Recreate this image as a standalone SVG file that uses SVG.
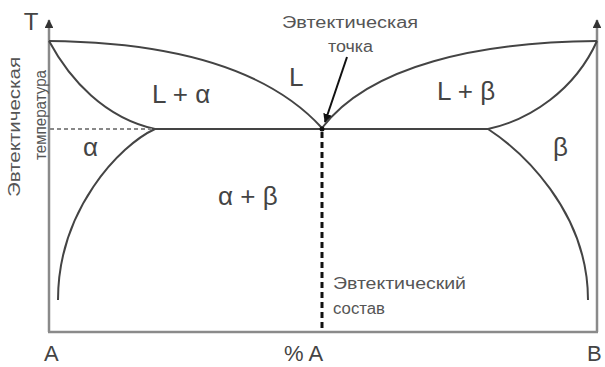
<svg xmlns="http://www.w3.org/2000/svg" width="605" height="367" viewBox="0 0 605 367">
<defs>
<marker id="ah" viewBox="0 0 10 10" refX="9" refY="5" markerWidth="4.5" markerHeight="5" orient="auto" markerUnits="strokeWidth"><path d="M0,0 L10,5 L0,10 z" fill="#111"/></marker>
<marker id="axh" viewBox="0 0 10 10" refX="9" refY="5" markerWidth="3.5" markerHeight="3.5" orient="auto" markerUnits="strokeWidth"><path d="M0,0 L10,5 L0,10 z" fill="#333"/></marker>
</defs>
<style>
.axis{fill:none;stroke:#8a8a8a;stroke-width:2.5}
.curve{fill:none;stroke:#444;stroke-width:2}
.lbl{font-family:"Liberation Sans",Arial,sans-serif;fill:#444}
.big{font-size:26px}
.ax{font-size:22px}
.sm{font-size:16px;fill:#555}
</style>
<rect width="605" height="367" fill="#fff"/>
<g id="axes">
<path class="axis" d="M49,332 L49,20" marker-end="url(#axh)"/>
<path class="axis" d="M597,332 L597,20" marker-end="url(#axh)"/>
<path class="axis" d="M48,332 L598,332"/>
</g>
<g id="connectors">
<path class="curve" d="M49,41 C150,42 260,60 322,128"/>
<path class="curve" d="M322,128 C370,65 480,42 597,41"/>
<path class="curve" d="M49,41 C70,80 105,118 155,129"/>
<path class="curve" d="M597,41 C575,90 530,120 488,129"/>
<path class="curve" d="M155,129 C120,145 58,210 58,300"/>
<path class="curve" d="M488,129 C520,150 588,210 588,300"/>
<path class="curve" d="M155,129 L488,129"/>
<path d="M50,129 L155,129" fill="none" stroke="#888" stroke-width="2" stroke-dasharray="4 3"/>
<path d="M322,132 L322,332" fill="none" stroke="#111" stroke-width="3" stroke-dasharray="6 4"/>
<circle cx="322" cy="129" r="2.5" fill="#111"/>
<path d="M347,57 L325,122" fill="none" stroke="#111" stroke-width="2" marker-end="url(#ah)"/>
</g>
<g id="labels">
<text class="lbl" x="31" y="30" font-size="24" text-anchor="middle">T</text>
<text class="lbl sm" transform="translate(20,127) rotate(-90)" text-anchor="middle" textLength="140" lengthAdjust="spacingAndGlyphs">Эвтектическая</text>
<text class="lbl sm" transform="translate(46,115) rotate(-90)" text-anchor="middle" textLength="90" lengthAdjust="spacingAndGlyphs">температура</text>
<text class="lbl sm" x="282" y="28" textLength="136" lengthAdjust="spacingAndGlyphs">Эвтектическая</text>
<text class="lbl sm" x="328" y="52" textLength="45" lengthAdjust="spacingAndGlyphs">точка</text>
<text class="lbl big" x="289" y="86">L</text>
<text class="lbl big" x="152" y="103">L + α</text>
<text class="lbl big" x="437" y="100">L + β</text>
<text class="lbl big" x="83" y="156">α</text>
<text class="lbl big" x="553" y="156">β</text>
<text class="lbl big" x="218" y="205">α + β</text>
<text class="lbl sm" x="333" y="289" textLength="133" lengthAdjust="spacingAndGlyphs">Эвтектический</text>
<text class="lbl sm" x="333" y="314" textLength="52" lengthAdjust="spacingAndGlyphs">состав</text>
<text class="lbl ax" x="44" y="361">A</text>
<text class="lbl ax" x="284" y="361">% A</text>
<text class="lbl ax" x="587" y="361">B</text>
</g>
</svg>
